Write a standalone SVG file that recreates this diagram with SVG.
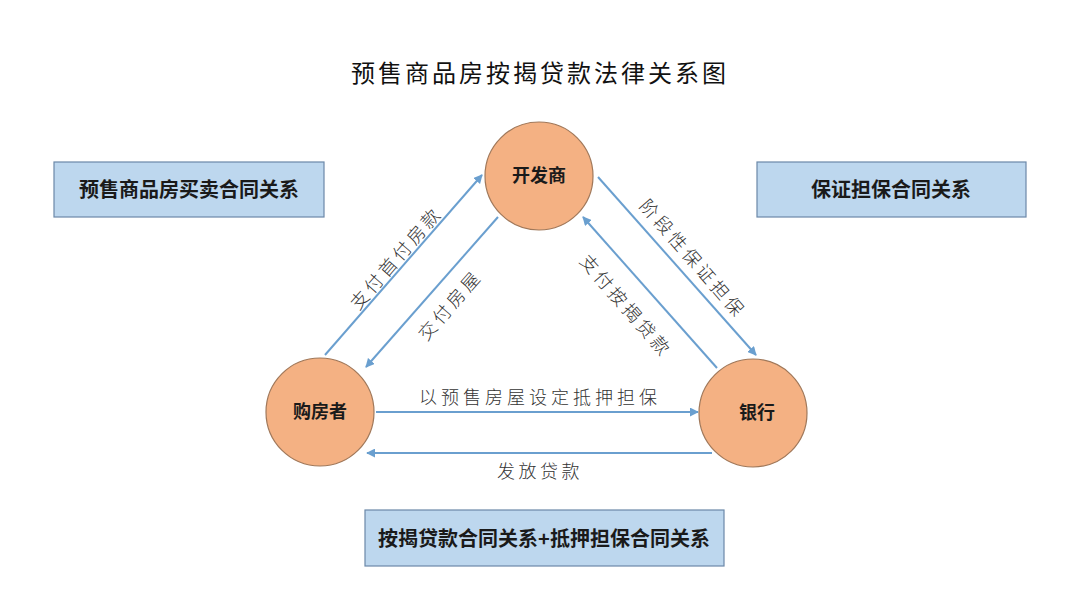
<svg xmlns="http://www.w3.org/2000/svg" width="1080" height="608" viewBox="0 0 1080 608">
<style>
.title{font-family:"Noto Sans CJK SC","Liberation Sans",sans-serif;font-size:24px;fill:#111;letter-spacing:3px}
.box{fill:#bdd7ee;stroke:#6b88a8;stroke-width:1.2}
.boxt{font-family:"Noto Sans CJK SC","Liberation Sans",sans-serif;font-size:20px;font-weight:bold;fill:#1a1a1a}
.node{fill:#f4b183;stroke:#a0785a;stroke-width:1.2}
.nodet{font-family:"Noto Sans CJK SC","Liberation Sans",sans-serif;font-size:18px;font-weight:bold;fill:#1a1a1a}
.edge{stroke:#6a9fcf;stroke-width:2;fill:none;marker-end:url(#ah)}
.lbl{font-family:"Noto Sans CJK SC","Liberation Sans",sans-serif;font-size:18px;fill:#333;letter-spacing:3.5px;font-weight:300}
.lblw{letter-spacing:4px}
</style>
<defs>
<marker id="ah" viewBox="0 0 10 10" refX="9" refY="5" markerWidth="4.5" markerHeight="4.5" orient="auto" markerUnits="strokeWidth">
<path d="M0,0 L10,5 L0,10 z" fill="#6a9fcf"/>
</marker>
</defs>
<rect width="1080" height="608" fill="#ffffff"/>
<text class="title" x="540" y="82" text-anchor="middle">预售商品房按揭贷款法律关系图</text>

<g id="box-left"><rect class="box" x="54" y="162" width="270" height="55"/><text class="boxt" x="189" y="197" text-anchor="middle">预售商品房买卖合同关系</text></g>
<g id="box-right"><rect class="box" x="757" y="162" width="269" height="55"/><text class="boxt" x="891" y="197" text-anchor="middle">保证担保合同关系</text></g>
<g id="box-bottom"><rect class="box" x="365" y="510" width="359" height="56"/><text class="boxt" x="544" y="546" text-anchor="middle">按揭贷款合同关系+抵押担保合同关系</text></g>

<g id="connectors">
<line class="edge" x1="325" y1="355" x2="482" y2="175"/>
<line class="edge" x1="498" y1="217" x2="366" y2="367"/>
<line class="edge" x1="598" y1="177" x2="756" y2="355"/>
<line class="edge" x1="717" y1="368" x2="583" y2="217"/>
<line class="edge" x1="376" y1="412" x2="698" y2="412"/>
<line class="edge" x1="712" y1="453" x2="367" y2="453"/>
<text class="lbl" x="395" y="257" text-anchor="middle" dominant-baseline="central" transform="rotate(-49 395 257)">支付首付房款</text>
<text class="lbl" x="449" y="304" text-anchor="middle" dominant-baseline="central" transform="rotate(-49 449 304)">交付房屋</text>
<text class="lbl" x="694" y="258" text-anchor="middle" dominant-baseline="central" transform="rotate(49 694 258)">阶段性保证担保</text>
<text class="lbl" x="627" y="305" text-anchor="middle" dominant-baseline="central" transform="rotate(49 627 305)">支付按揭贷款</text>
<text class="lbl lblw" x="540" y="396" text-anchor="middle" dominant-baseline="central">以预售房屋设定抵押担保</text>
<text class="lbl" x="540" y="470" text-anchor="middle" dominant-baseline="central">发放贷款</text>
</g>

<g id="developer"><circle class="node" cx="539" cy="176" r="54"/><text class="nodet" x="539" y="182" text-anchor="middle">开发商</text></g>
<g id="buyer"><circle class="node" cx="320" cy="412" r="54"/><text class="nodet" x="320" y="418" text-anchor="middle">购房者</text></g>
<g id="bank"><circle class="node" cx="753" cy="413" r="54"/><text class="nodet" x="757" y="419" text-anchor="middle">银行</text></g>
</svg>
